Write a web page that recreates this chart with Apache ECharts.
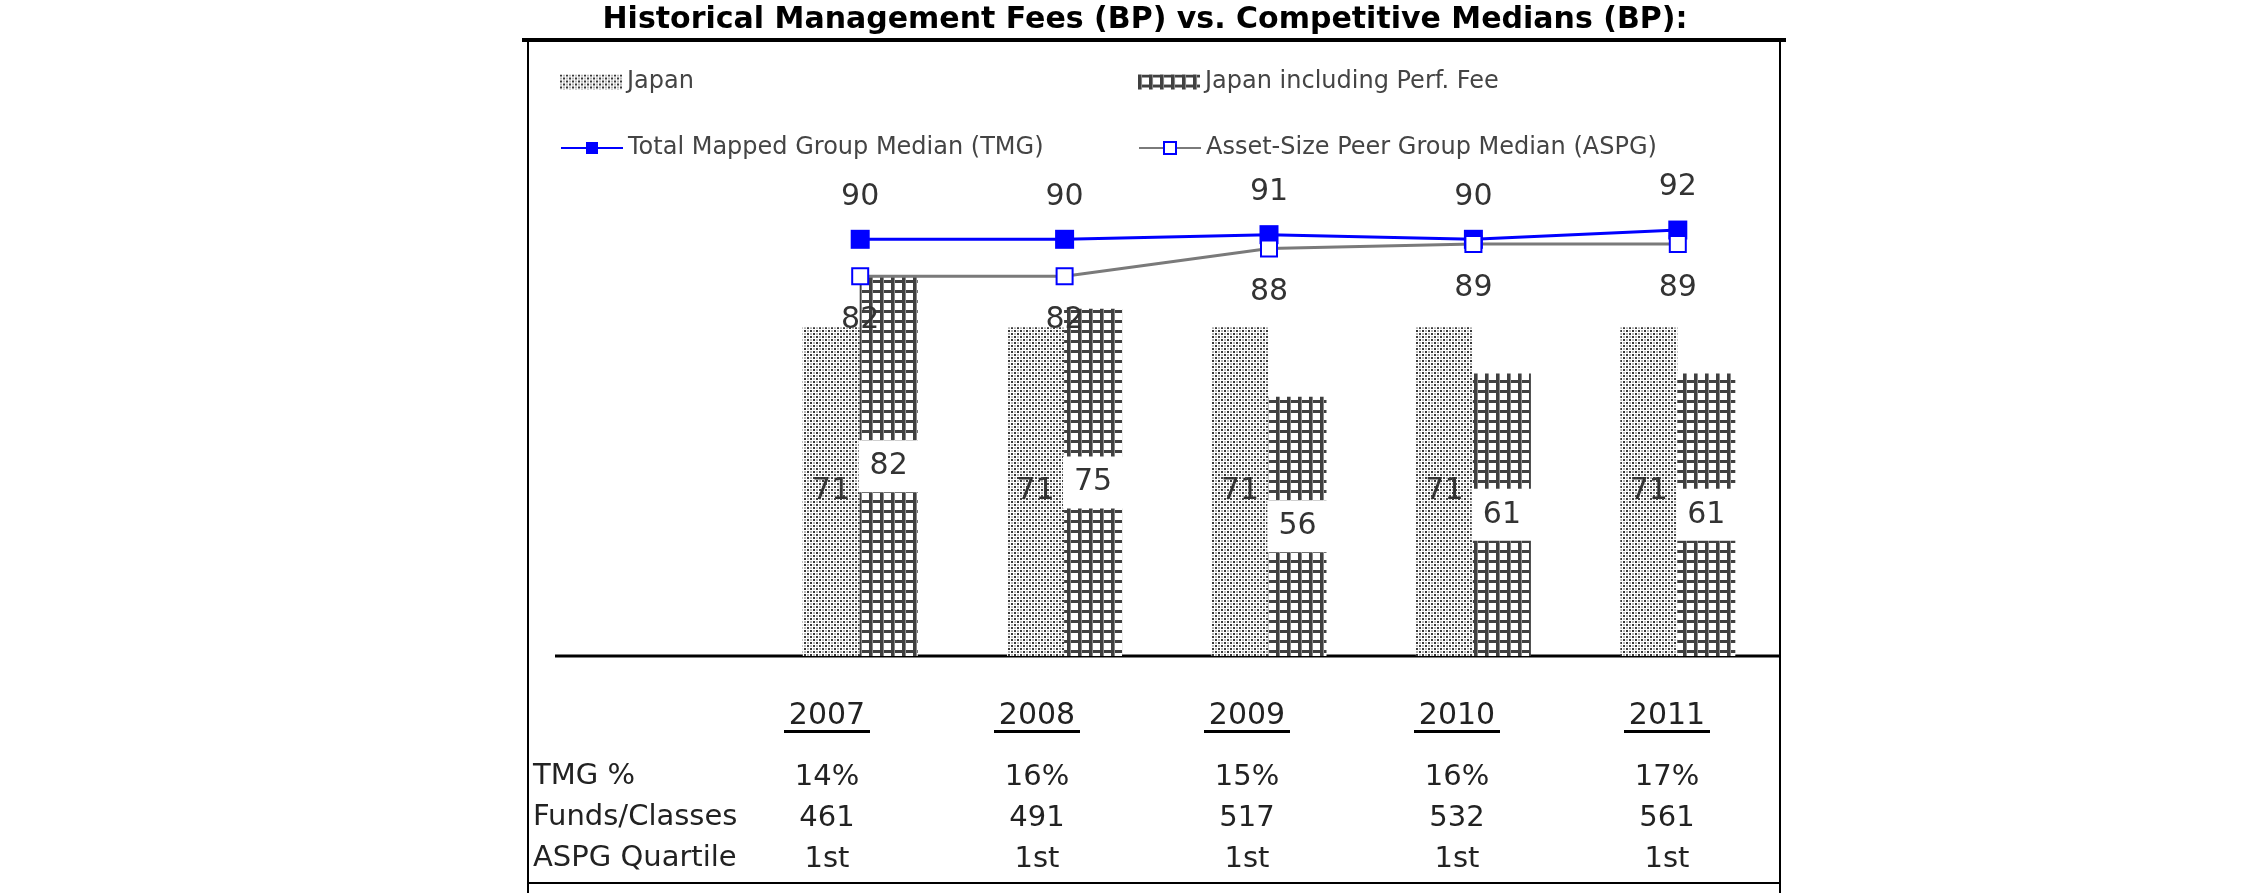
<!DOCTYPE html>
<html><head><meta charset="utf-8">
<script src="https://cdn.jsdelivr.net/npm/echarts@6/dist/echarts.min.js"></script>
<style>html,body{margin:0;padding:0;background:#fff}#c{width:2250px;height:895px}</style>
</head><body><div id="c"></div>
<script>
const years = ['2007', '2008', '2009', '2010', '2011'];
const japan = [71, 71, 71, 71, 71];
const japanPerf = [82, 75, 56, 61, 61];
const tmgMedian = [90, 90, 91, 90, 92];
const aspgMedian = [82, 82, 88, 89, 89];
const tmgPct = ['14%', '16%', '15%', '16%', '17%'];
const fundsClasses = ['461', '491', '517', '532', '561'];
const aspgQuartile = ['1st', '1st', '1st', '1st', '1st'];
const rowLabels = ['TMG %', 'Funds/Classes', 'ASPG Quartile'];
const titleText = 'Historical Management Fees (BP) vs. Competitive Medians (BP):';
const seriesNames = ['Japan', 'Japan including Perf. Fee', 'Total Mapped Group Median (TMG)', 'Asset-Size Peer Group Median (ASPG)'];

const FONT = 'DejaVu Sans';
function makePattern(w, h, draw) {
  const c = document.createElement('canvas');
  c.width = w; c.height = h;
  const g = c.getContext('2d');
  g.fillStyle = '#fff'; g.fillRect(0, 0, w, h);
  draw(g);
  return { image: c, repeat: 'repeat' };
}
const dotPattern = makePattern(6, 6, g => {
  g.fillStyle = '#383838'; g.fillRect(0, 0, 2, 2); g.fillRect(3, 3, 2, 2);
  g.fillStyle = '#b4b4b4'; g.fillRect(3, 0, 2, 2); g.fillRect(0, 3, 2, 2);
});
const gridPattern = makePattern(11, 10, g => {
  g.fillStyle = '#404040'; g.fillRect(0, 0, 3, 10); g.fillRect(0, 0, 11, 3);
  g.fillStyle = '#8a8a8a'; g.fillRect(3, 0, 1, 10);
});

const chart = echarts.init(document.getElementById('c'), null, { renderer: 'canvas' });

const legendCommon = {
  padding: 0, itemGap: 0, itemWidth: 62, itemHeight: 15, selectedMode: false,
  textStyle: { fontSize: 24, color: '#444', fontFamily: FONT }
};
const tableAxis = (margin, fmt) => ({
  type: 'category', gridIndex: 1, data: years, position: 'bottom',
  axisLine: { show: false }, axisTick: { show: false }, splitLine: { show: false },
  axisLabel: { interval: 0, margin: margin, fontSize: 29, lineHeight: 29, color: '#222', fontFamily: FONT, formatter: fmt }
});

const option = {
  animation: false,
  backgroundColor: '#fff',
  textStyle: { fontFamily: FONT },
  legend: [
    Object.assign({ data: [seriesNames[0]], left: 560, top: 70, icon: 'rect' }, legendCommon),
    Object.assign({ data: [seriesNames[1]], left: 1138, top: 70, icon: 'rect' }, legendCommon),
    Object.assign({ data: [seriesNames[2]], left: 560, top: 136 }, legendCommon),
    Object.assign({ data: [seriesNames[3]], left: 1138, top: 136 }, legendCommon)
  ],
  grid: [
    { left: 758, width: 1022, top: 193, height: 463 },
    { left: 722, width: 1050, top: 680, height: 1 }
  ],
  xAxis: [
    { type: 'category', gridIndex: 0, data: years, axisLine: { show: false }, axisTick: { show: false }, axisLabel: { show: false } },
    {
      type: 'category', gridIndex: 1, data: years, position: 'bottom',
      axisLine: { show: false }, axisTick: { show: false },
      axisLabel: {
        interval: 0, margin: 22,
        formatter: v => '{y|' + v + '}\n{u|}',
        rich: {
          y: { fontSize: 30, lineHeight: 27, color: '#222', fontFamily: FONT },
          u: { width: 86, height: 3, lineHeight: 3, backgroundColor: '#000' }
        }
      }
    },
    tableAxis(82, (v, i) => tmgPct[i]),
    tableAxis(123, (v, i) => fundsClasses[i]),
    tableAxis(164, (v, i) => aspgQuartile[i])
  ],
  yAxis: [
    { type: 'value', gridIndex: 0, min: 0, max: 100, show: false },
    { type: 'value', gridIndex: 1, min: 0, max: 1, show: false }
  ],
  series: [
    {
      name: seriesNames[0], type: 'bar', data: japan, barWidth: 57, barGap: '0%',
      itemStyle: { color: dotPattern },
      label: { show: true, position: 'inside', fontSize: 30, color: '#333', fontFamily: FONT },
      emphasis: { disabled: true }
    },
    {
      name: seriesNames[1], type: 'bar', data: japanPerf, barWidth: 58, barGap: '0%',
      itemStyle: { color: gridPattern },
      label: { show: true, position: 'inside', fontSize: 30, color: '#333', fontFamily: FONT, backgroundColor: '#fff', padding: [11, 11] },
      emphasis: { disabled: true }
    },
    {
      name: seriesNames[2], type: 'line', data: tmgMedian,
      symbol: 'rect', symbolSize: 19,
      itemStyle: { color: '#0000ff' }, lineStyle: { color: '#0000ff', width: 3 },
      label: { show: true, position: 'top', distance: 18, fontSize: 30, color: '#333', fontFamily: FONT },
      emphasis: { disabled: true }
    },
    {
      name: seriesNames[3], type: 'line', data: aspgMedian,
      symbol: 'emptyRect', symbolSize: 16,
      itemStyle: { color: '#0000ff', borderColor: '#0000ff', borderWidth: 2 },
      lineStyle: { color: '#7a7a7a', width: 3 },
      label: { show: true, position: 'bottom', distance: 20, fontSize: 30, color: '#333', fontFamily: FONT },
      emphasis: { disabled: true }
    }
  ],
  graphic: [
    { type: 'text', x: 1145, y: 20, style: { text: titleText, font: 'bold 30px "DejaVu Sans"', fill: '#000', textAlign: 'center', textVerticalAlign: 'middle' } },
    { type: 'rect', shape: { x: 528, y: 40, width: 1252, height: 843 }, style: { fill: null, stroke: '#000', lineWidth: 2 } },
    { type: 'line', shape: { x1: 528, y1: 883, x2: 528, y2: 893 }, style: { stroke: '#000', lineWidth: 2 } },
    { type: 'line', shape: { x1: 1780, y1: 883, x2: 1780, y2: 893 }, style: { stroke: '#000', lineWidth: 2 } },
    { type: 'line', shape: { x1: 522, y1: 40, x2: 1786, y2: 40 }, style: { stroke: '#000', lineWidth: 4 } },
    { type: 'line', shape: { x1: 555, y1: 656, x2: 1780, y2: 656 }, style: { stroke: '#000', lineWidth: 3 } },
    { type: 'text', x: 533, y: 776, style: { text: rowLabels[0], font: '29px "DejaVu Sans"', fill: '#222', textAlign: 'left', textVerticalAlign: 'middle' } },
    { type: 'text', x: 533, y: 817, style: { text: rowLabels[1], font: '29px "DejaVu Sans"', fill: '#222', textAlign: 'left', textVerticalAlign: 'middle' } },
    { type: 'text', x: 533, y: 858, style: { text: rowLabels[2], font: '29px "DejaVu Sans"', fill: '#222', textAlign: 'left', textVerticalAlign: 'middle' } }
  ]
};
chart.setOption(option);
</script>
</body></html>
